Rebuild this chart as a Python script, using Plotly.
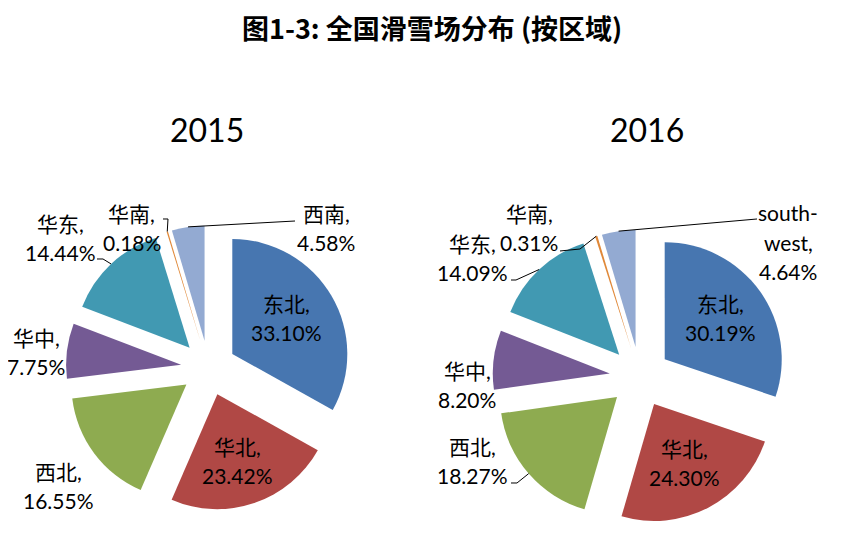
import math
import plotly.graph_objects as go

# ---------------- data ----------------
regions_2015 = ["东北", "华北", "西北", "华中", "华东", "华南", "西南"]
values_2015 = [33.10, 23.42, 16.55, 7.75, 14.44, 0.18, 4.58]
regions_2016 = ["东北", "华北", "西北", "华中", "华东", "华南", "south-west"]
values_2016 = [30.19, 24.30, 18.27, 8.20, 14.09, 0.31, 4.64]
years = ["2015", "2016"]
title_text = "图1-3: 全国滑雪场分布 (按区域)"

# ---------------- style / layout ----------------
PAGE_W, PAGE_H = 850, 545
OFF = 8  # default body margin of the html page
W, H = PAGE_W - OFF, PAGE_H - OFF
colors = ["#4776B0", "#B04845", "#8EAB50", "#745A94", "#4199B2", "#E08838", "#93AAD2"]
label_font = "Lato, 'Noto Sans CJK SC', sans-serif"
LINE_GAP = 29.5

# pie geometry (page pixels): centre, radius, pull fraction
pies = [
    dict(cx=208.5, cy=368.0, r=115.0, pull=0.24),
    dict(cx=640.0, cy=377.0, r=117.0, pull=0.26),
]
year_pos = [(207, 130), (647, 130)]

# label block centres (page pixels)
label_pos = [
    [(286, 318), (237, 461), (58, 486), (36, 352), (60, 238), (132, 228), (326, 228)],
    [(720, 318), (684, 463), (473, 461), (467, 385), (473, 258), (529, 228), (788, 242)],
]
# leader lines: slice index -> label-side points (page pixels)
leaders = [
    {4: [(97, 259), (103, 259)], 5: [(163, 219), (168, 219)], 6: [(295, 221)]},
    {2: [(511, 483), (517, 483)], 4: [(511, 280), (516, 280)],
     5: [(560, 251), (580, 249)], 6: [(757, 219)]},
]


def px(x):
    return (x - OFF) / W


def py(y):
    return 1 - (y - OFF) / H


fig = go.Figure()
annotations = []
shapes = []

for k, (names, vals) in enumerate([(regions_2015, values_2015), (regions_2016, values_2016)]):
    g = pies[k]
    half = g["r"] * (1 + g["pull"])
    fig.add_trace(go.Pie(
        labels=names, values=vals, sort=False, direction="clockwise", rotation=0,
        pull=g["pull"], textinfo="none", hoverinfo="label+value",
        marker=dict(colors=colors, line=dict(width=0)),
        showlegend=False,
        domain=dict(x=[px(g["cx"] - half), px(g["cx"] + half)],
                    y=[py(g["cy"] + half), py(g["cy"] - half)]),
    ))

    total = sum(vals)
    cum = 0.0
    for i, (n, v) in enumerate(zip(names, vals)):
        mid = (cum + v / 2) / total * 2 * math.pi
        cum += v
        dx, dy = math.sin(mid), -math.cos(mid)
        rr = g["r"] * (1 + g["pull"])
        edge = (g["cx"] + rr * dx, g["cy"] + rr * dy)

        lines = (n.replace("-", "-\n") + ",").split("\n") + [f"{v:.2f}%"]
        lx, ly = label_pos[k][i]
        top = ly - LINE_GAP * (len(lines) - 1) / 2
        for j, line in enumerate(lines):
            annotations.append(dict(
                x=px(lx), y=py(top + j * LINE_GAP), xref="paper", yref="paper", text=line,
                showarrow=False, xanchor="center", yanchor="middle", align="center",
                font=dict(family=label_font, size=21, color="#000000"),
            ))
        if i in leaders[k]:
            pts = leaders[k][i] + [edge]
            path = "M " + " L ".join(f"{px(x):.5f},{py(y):.5f}" for x, y in pts)
            shapes.append(dict(type="path", xref="paper", yref="paper", path=path,
                               line=dict(color="#000000", width=1)))

    annotations.append(dict(
        x=px(year_pos[k][0]), y=py(year_pos[k][1]), xref="paper", yref="paper",
        text=years[k], showarrow=False, xanchor="center", yanchor="middle",
        font=dict(family=label_font, size=32, color="#000000"),
    ))

annotations.append(dict(
    x=px(432), y=py(27), xref="paper", yref="paper",
    text=f"<b>{title_text}</b>", showarrow=False, xanchor="center", yanchor="middle",
    font=dict(family="'Noto Sans CJK SC', sans-serif", size=27, color="#000000"),
))

fig.update_layout(
    width=W, height=H,
    margin=dict(l=0, r=0, t=0, b=0),
    paper_bgcolor="white", plot_bgcolor="white",
    annotations=annotations, shapes=shapes,
)

fig.write_html("out.html")
